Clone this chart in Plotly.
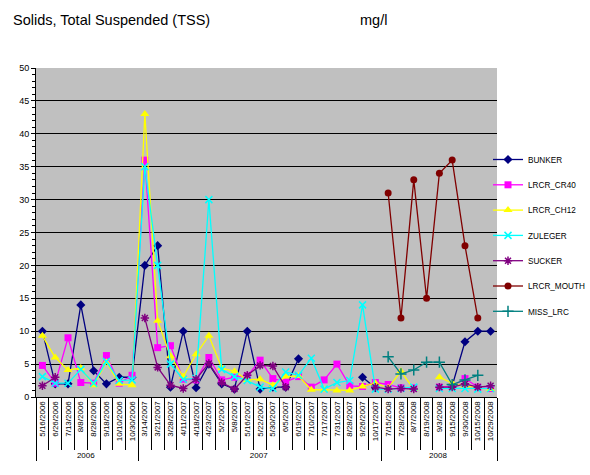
import plotly.graph_objects as go

dates = ["5/16/2006","6/26/2006","7/13/2006","8/8/2006","8/28/2006","9/18/2006","10/10/2006","10/30/2006",
         "3/14/2007","3/21/2007","3/28/2007","4/11/2007","4/18/2007","4/23/2007","5/2/2007","5/8/2007",
         "5/16/2007","5/22/2007","5/30/2007","6/5/2007","6/19/2007","7/10/2007","7/17/2007","7/31/2007",
         "8/28/2007","9/26/2007","10/17/2007",
         "7/15/2008","7/28/2008","8/7/2008","8/19/2008","9/3/2008","9/15/2008","9/30/2008","10/15/2008","10/29/2008"]
years = [d.split("/")[-1] for d in dates]

N = None
BUNKER = [10,2,2,14,4,2,3,3,20,23,1.5,10,1.4,5,2,1.2,10,1.2,1.5,1.5,5.8,N,N,N,N,3.0,1.4,N,N,N,N,N,1.7,8.4,10,10]
LRCR_CR40 = [4.8,2.1,9,2.2,2.1,6.3,2.1,3.3,36,7.5,7.8,2.7,2.6,6,2.6,3.0,3.2,5.6,2.8,2.3,3.1,1.5,2.6,5,1.7,1.6,2.2,1.9,1.4,1.4,N,1.5,1.6,2.8,1.5,1.3]
LRCR_CH12 = [9.3,6,4.1,4.4,1.8,5.3,2,1.8,43,11.6,6.2,3.1,6.5,9.3,4.4,3.9,2.6,2.7,1.8,3.1,3.2,1.1,1.1,1.0,1.0,1.6,2.1,1.4,3.9,1.2,N,3.0,2.1,1.7,1.5,1.2]
ZULEGER = [3.1,2.1,2.1,4.2,2.1,5.4,2.5,2.6,35,20,5,2.7,2.8,30,4.2,3.1,2.5,1.5,1.3,3.8,3.3,5.9,1.2,2.2,2.5,14,1.2,1.2,1.3,1.5,N,1.3,1.3,1.3,1.2,1.3]
SUCKER = [1.7,3.0,N,N,N,N,N,N,12,4.5,1.8,1.3,2.7,5.1,2.2,1.2,3.3,4.8,4.7,1.5,N,N,N,N,N,N,1.5,1.2,1.3,1.2,N,1.5,1.5,2.0,1.5,1.7]
LRCR_MOUTH = [N]*27 + [31,12,33,15,34,36,23,12,N]
MISS_LRC = [N]*27 + [6.1,3.5,4.1,5.3,5.3,1.9,2.6,3.3,N]

series = [
    ("BUNKER", BUNKER, "#000080", "diamond", 7),
    ("LRCR_CR40", LRCR_CR40, "#FF00FF", "square", 7),
    ("LRCR_CH12", LRCR_CH12, "#FFFF00", "triangle-up", 8),
    ("ZULEGER", ZULEGER, "#00FFFF", "x-thin", 7),
    ("SUCKER", SUCKER, "#800080", "asterisk", 7),
    ("LRCR_MOUTH", LRCR_MOUTH, "#800000", "circle", 7),
    ("MISS_LRC", MISS_LRC, "#008080", "cross-thin", 8),
]

fig = go.Figure()
for i, (name, vals, col, sym, sz) in enumerate(series):
    marker = dict(symbol=sym, size=sz, color=col)
    if sym in ("x-thin", "asterisk", "cross-thin"):
        marker["line"] = dict(color=col, width=1.5)
    fig.add_trace(go.Scatter(
        x=[years, dates], y=vals, name=name, mode="lines+markers",
        line=dict(color=col, width=1.3), marker=marker,
        connectgaps=False, legendgroup=name,
    ))

fnt = "Liberation Sans, Arial, sans-serif"
W, H = 590, 475
fig.update_layout(
    width=W, height=H,
    margin=dict(l=36, r=93, t=68, b=78, autoexpand=False),
    paper_bgcolor="white", plot_bgcolor="#C0C0C0",
    font=dict(family=fnt, size=10, color="black"),
    showlegend=True,
    legend=dict(xref="container", yref="container", x=488 / W, y=1 - 145 / H,
                xanchor="left", yanchor="top", itemwidth=30,
                font=dict(size=8.2, family=fnt), tracegroupgap=6.3,
                bgcolor="rgba(0,0,0,0)", borderwidth=0),
    annotations=[
        dict(text="Solids, Total Suspended (TSS)", xref="paper", yref="paper",
             x=-0.054, y=1.146, xanchor="left", yanchor="middle", showarrow=False,
             font=dict(size=14.5, family=fnt)),
        dict(text="mg/l", xref="paper", yref="paper",
             x=0.698, y=1.146, xanchor="left", yanchor="middle", showarrow=False,
             font=dict(size=14.5, family=fnt)),
    ],
)
fig.update_yaxes(range=[0, 50], dtick=5, showgrid=True, gridcolor="#000000", gridwidth=1,
                 showline=True, linecolor="black", linewidth=1, automargin=False,
                 ticks="outside", ticklen=4, tickcolor="black",
                 minor=dict(dtick=1, ticks="outside", ticklen=3, tickcolor="black", showgrid=False),
                 tickfont=dict(size=9), zeroline=False)
fig.update_xaxes(type="multicategory", tickangle=-90, tickfont=dict(size=8),
                 range=[-0.5, len(dates) - 0.5], autorange=False,
                 showline=True, linecolor="black", linewidth=1, automargin=False,
                 ticks="outside", tickson="boundaries", ticklen=52, tickcolor="black",
                 showdividers=True, dividercolor="black", dividerwidth=1,
                 showgrid=False)

fig.write_html("out.html", config={"displayModeBar": False},
               post_script="document.body.style.margin='0';document.body.style.overflow='hidden';")
